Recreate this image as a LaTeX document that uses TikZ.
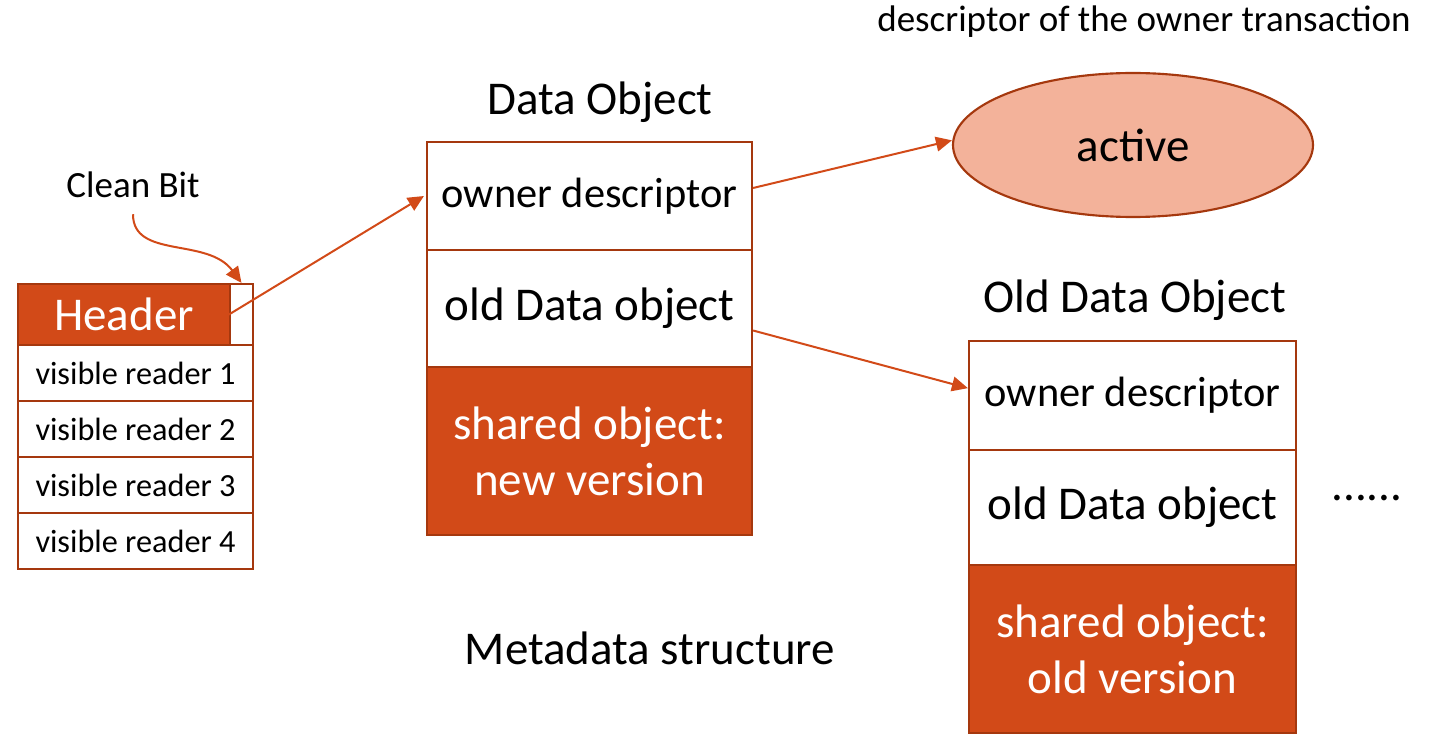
\documentclass[tikz,border=0pt]{standalone}
\usepackage{fontspec}
\setmainfont{Carlito}
\usetikzlibrary{arrows.meta,shapes.geometric}

\definecolor{rust}{HTML}{D24A18}
\definecolor{rustdark}{HTML}{A5380E}
\definecolor{salmon}{HTML}{F3B29A}

\newcommand\titlefont{\fontsize{35.25}{42}\selectfont}
\newcommand\cellfont{\fontsize{31.8}{38}\selectfont}
\newcommand\readerfont{\fontsize{24.2}{28}\selectfont}
\newcommand\notefont{\fontsize{27.75}{33}\selectfont}

\begin{document}
\begin{tikzpicture}[x=0.75pt,y=-0.75pt,
        cell/.style={draw=rustdark,line width=1.6pt,fill=white,inner sep=0pt},
        data cell/.style={cell,minimum width=243.75pt},
        old cell/.style={cell,minimum width=245.25pt},
        shared cell/.style={cell,fill=rust,text=white,align=center,font=\titlefont},
        reader/.style={cell,minimum width=176.25pt,minimum height=42pt,font=\readerfont},
        title/.style={inner sep=0pt,font=\titlefont},
        link/.style={draw=rust,line width=1.5pt,-{Triangle[length=12pt,width=11pt]}}]

    \useasboundingbox (0,0) rectangle (1432,734);

    % Define the reader list
    \node[cell,fill=rust,text=white,minimum width=159pt,minimum height=45.75pt,font=\titlefont] (hdr) at (124,314.5) {Header};
    \node[cell,minimum width=17.25pt,minimum height=45.75pt] (cbit) at (241.5,314.5) {};
    \node[reader] (vr1) at (135.5,373) {visible reader 1};
    \node[reader] (vr2) at (135.5,429) {visible reader 2};
    \node[reader] (vr3) at (135.5,485) {visible reader 3};
    \node[reader] (vr4) at (135.5,541) {visible reader 4};
    \node[inner sep=0pt,font=\notefont] (cb) at (133,185) {Clean Bit};

    % Define the data object
    \node[title] (dotitle) at (600,102) {Data Object};
    \node[data cell,minimum height=81pt,font=\cellfont] (od1) at (589.5,196) {owner descriptor};
    \node[data cell,minimum height=87.75pt,font=\titlefont] (od2) at (589.5,308.5) {old Data object};
    \node[shared cell,minimum width=243.75pt,minimum height=126pt] (ds) at (589.5,451) {shared object:\\new version};

    % Define the owner transaction
    \node[inner sep=0pt,font=\notefont] (desc) at (1144,22) {descriptor of the owner transaction};
    \node[ellipse,draw=rustdark,line width=1.6pt,fill=salmon,inner sep=0pt,
          minimum width=270pt,minimum height=108pt,font=\titlefont] (act) at (1133,145) {active};

    % Define the old data object
    \node[title] (oldtitle) at (1135,300) {Old Data Object};
    \node[old cell,minimum height=81.75pt,font=\cellfont] (oo1) at (1132.5,395.5) {owner descriptor};
    \node[old cell,minimum height=86.25pt,font=\titlefont] (oo2) at (1132.5,507.5) {old Data object};
    \node[shared cell,minimum width=245.25pt,minimum height=126pt] (os) at (1132.5,649) {shared object:\\old version};
    \node[inner sep=0pt,anchor=base,font=\titlefont] (more) at (1367,500) {......};

    \node[title] (meta) at (650,648) {Metadata structure};

    % Draw links
    \path[link] ([yshift=-12pt]cb.south) .. controls +(0,45) and +(-34,-46) .. (cbit.north);
    \path[link] (cbit.west) -- ([xshift=-1.5pt]od1.west);
    \path[link] ([yshift=6pt]od1.east) -- ([yshift=3.5pt]act.west);
    \path[link] ([yshift=-16.5pt]od2.east) -- ([yshift=5.5pt]oo1.west);

\end{tikzpicture}
\end{document}
